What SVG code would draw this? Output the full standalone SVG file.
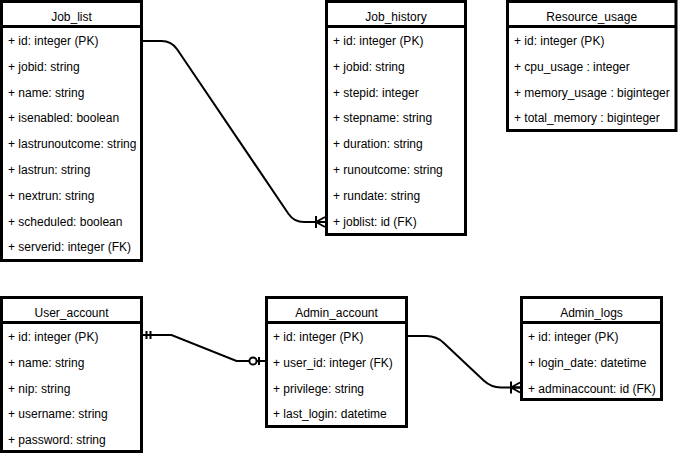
<svg xmlns="http://www.w3.org/2000/svg" width="678" height="456" viewBox="0 0 678 456">
<style>
.box{fill:#fff;stroke:#000;stroke-width:3}
.sep{stroke:#000;stroke-width:3}
.t{font-family:"Liberation Sans",Arial,sans-serif;font-size:12px;fill:#000}
.h{text-anchor:middle}
.edge{fill:none;stroke:#000;stroke-width:2}
.mk{fill:none;stroke:#000;stroke-width:2}
</style>
<defs>
<marker id="crow" markerUnits="userSpaceOnUse" markerWidth="12" markerHeight="14" viewBox="0 0 12 14" refX="11" refY="7" orient="auto" overflow="visible">
<path class="mk" d="M2,1 L2,13 M2,7 L11,2 M2,7 L11,12 M2,7 L11,7"/>
</marker>
<marker id="mandOne" markerUnits="userSpaceOnUse" markerWidth="12" markerHeight="12" viewBox="0 0 12 12" refX="0" refY="6" orient="auto" overflow="visible">
<path class="mk" d="M5,2 L5,10 M9,2 L9,10"/>
</marker>
<marker id="zeroOne" markerUnits="userSpaceOnUse" markerWidth="20" markerHeight="12" viewBox="0 0 20 12" refX="20" refY="6" orient="auto" overflow="visible">
<path class="mk" d="M14,2 L14,10"/>
<circle cx="8" cy="6" r="3.6" fill="#fff" stroke="#000" stroke-width="2"/>
</marker>
</defs>

<g id="connectors">
<path class="edge" d="M141.5,41 L161.5,41 Q171.5,41 177.1,49.3 L288.4,213.7 Q294,222 304,222 L325,222" marker-end="url(#crow)"/>
<path class="edge" d="M141.5,335 L171.5,335 L236.5,361 L265,361" marker-start="url(#mandOne)" marker-end="url(#zeroOne)"/>
<path class="edge" d="M406.5,336 L426.5,336 Q436.5,336 443.8,342.9 L483.7,380.6 Q491,387.5 501,387.5 L520,387.5" marker-end="url(#crow)"/>
</g>

<g id="Job_list">
<rect class="box" x="1.5" y="1.5" width="140" height="259"/>
<line class="sep" x1="1.5" y1="26.5" x2="141.5" y2="26.5"/>
<text class="t h" x="71.5" y="21">Job_list</text>
<text class="t" x="8" y="45">+ id: integer (PK)</text>
<text class="t" x="8" y="70.8">+ jobid: string</text>
<text class="t" x="8" y="96.6">+ name: string</text>
<text class="t" x="8" y="122.4">+ isenabled: boolean</text>
<text class="t" x="8" y="148.2">+ lastrunoutcome: string</text>
<text class="t" x="8" y="174">+ lastrun: string</text>
<text class="t" x="8" y="199.8">+ nextrun: string</text>
<text class="t" x="8" y="225.6">+ scheduled: boolean</text>
<text class="t" x="8" y="251.4">+ serverid: integer (FK)</text>
</g>

<g id="Job_history">
<rect class="box" x="326.5" y="1.5" width="139" height="233"/>
<line class="sep" x1="326.5" y1="26.5" x2="465.5" y2="26.5"/>
<text class="t h" x="396" y="21">Job_history</text>
<text class="t" x="333" y="45">+ id: integer (PK)</text>
<text class="t" x="333" y="70.8">+ jobid: string</text>
<text class="t" x="333" y="96.6">+ stepid: integer</text>
<text class="t" x="333" y="122.4">+ stepname: string</text>
<text class="t" x="333" y="148.2">+ duration: string</text>
<text class="t" x="333" y="174">+ runoutcome: string</text>
<text class="t" x="333" y="199.8">+ rundate: string</text>
<text class="t" x="333" y="225.6">+ joblist: id (FK)</text>
</g>

<g id="Resource_usage">
<rect class="box" x="507.5" y="1.5" width="168.5" height="129"/>
<line class="sep" x1="507.5" y1="26.5" x2="676" y2="26.5"/>
<text class="t h" x="591.7" y="21">Resource_usage</text>
<text class="t" x="514" y="45">+ id: integer (PK)</text>
<text class="t" x="514" y="70.8">+ cpu_usage : integer</text>
<text class="t" x="514" y="96.6">+ memory_usage : biginteger</text>
<text class="t" x="514" y="122.4">+ total_memory : biginteger</text>
</g>

<g id="User_account">
<rect class="box" x="1.5" y="297.5" width="140" height="154"/>
<line class="sep" x1="1.5" y1="322.5" x2="141.5" y2="322.5"/>
<text class="t h" x="71.5" y="317">User_account</text>
<text class="t" x="8" y="341">+ id: integer (PK)</text>
<text class="t" x="8" y="366.8">+ name: string</text>
<text class="t" x="8" y="392.6">+ nip: string</text>
<text class="t" x="8" y="418.4">+ username: string</text>
<text class="t" x="8" y="444.2">+ password: string</text>
</g>

<g id="Admin_account">
<rect class="box" x="266.5" y="297.5" width="140" height="129"/>
<line class="sep" x1="266.5" y1="322.5" x2="406.5" y2="322.5"/>
<text class="t h" x="336.5" y="317">Admin_account</text>
<text class="t" x="273" y="341">+ id: integer (PK)</text>
<text class="t" x="273" y="366.8">+ user_id: integer (FK)</text>
<text class="t" x="273" y="392.6">+ privilege: string</text>
<text class="t" x="273" y="418.4">+ last_login: datetime</text>
</g>

<g id="Admin_logs">
<rect class="box" x="521.5" y="297.5" width="140" height="102"/>
<line class="sep" x1="521.5" y1="322.5" x2="661.5" y2="322.5"/>
<text class="t h" x="591.5" y="317">Admin_logs</text>
<text class="t" x="528" y="341">+ id: integer (PK)</text>
<text class="t" x="528" y="366.8">+ login_date: datetime</text>
<text class="t" x="528" y="392.6">+ adminaccount: id (FK)</text>
</g>
</svg>
